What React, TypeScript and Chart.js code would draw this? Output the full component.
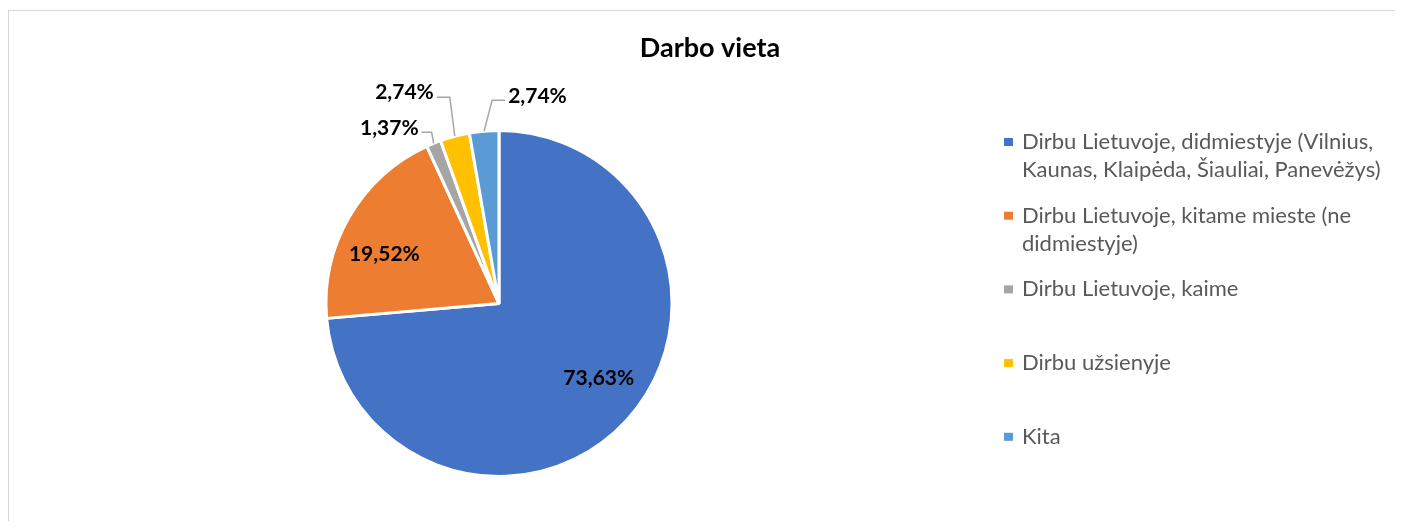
import React, { useEffect, useRef } from "react";
import { Chart, registerables } from "chart.js";

Chart.register(...registerables);

const chartTitle = "Darbo vieta";
const categories = [
  "Dirbu Lietuvoje, didmiestyje (Vilnius, Kaunas, Klaipėda, Šiauliai, Panevėžys)",
  "Dirbu Lietuvoje, kitame mieste (ne didmiestyje)",
  "Dirbu Lietuvoje, kaime",
  "Dirbu užsienyje",
  "Kita",
];
const values = [73.63, 19.52, 1.37, 2.74, 2.74];
const colors = ["#4472C4", "#ED7D31", "#A5A5A5", "#FFC000", "#5B9BD5"];

// label placement: inside labels use a shift from the mid-angle point,
// outside labels use leader geometry relative to the slice's outer mid point
type LabelCfg =
  | { kind: "inside"; shift: [number, number] }
  | {
      kind: "outside";
      elbow: [number, number];
      end: [number, number];
      text: [number, number];
      align: CanvasTextAlign;
    };
const labelCfg: LabelCfg[] = [
  { kind: "inside", shift: [8, -9] },
  { kind: "inside", shift: [-7, 13] },
  { kind: "outside", elbow: [-2, -11], end: [-12, -11], text: [-15, -15], align: "right" },
  { kind: "outside", elbow: [-5, -39], end: [-18, -39], text: [-21, -44], align: "right" },
  { kind: "outside", elbow: [8, -31], end: [21, -31], text: [24, -35], align: "left" },
];

const FONT = "Lato, 'Open Sans', sans-serif";

const fmt = (v: number) => v.toFixed(2).replace(".", ",") + "%";

function wrap(ctx: CanvasRenderingContext2D, text: string, maxW: number): string[] {
  const words = text.split(" ");
  const lines: string[] = [];
  let cur = "";
  for (const w of words) {
    const t = cur ? cur + " " + w : w;
    if (ctx.measureText(t).width > maxW && cur) {
      lines.push(cur);
      cur = w;
    } else cur = t;
  }
  if (cur) lines.push(cur);
  return lines;
}

const decorPlugin = {
  id: "decor",
  afterDatasetsDraw(chart: any) {
    const ctx: CanvasRenderingContext2D = chart.ctx;
    const area = chart.chartArea;
    const meta = chart.getDatasetMeta(0);
    ctx.save();

    // title
    ctx.fillStyle = "#000000";
    ctx.font = `bold 27px ${FONT}`;
    ctx.textAlign = "center";
    ctx.textBaseline = "middle";
    ctx.fillText(chartTitle, chart.width / 2 + 4, 37);

    // data labels
    ctx.font = `bold 21px ${FONT}`;
    meta.data.forEach((arc: any, i: number) => {
      const p = arc.getProps(["x", "y", "startAngle", "endAngle", "outerRadius"], true);
      const mid = (p.startAngle + p.endAngle) / 2;
      const cfg = labelCfg[i];
      const txt = fmt(values[i]);
      ctx.fillStyle = "#000000";
      if (cfg.kind === "inside") {
        const r = p.outerRadius * 0.72;
        const x = p.x + Math.cos(mid) * r + cfg.shift[0];
        const y = p.y + Math.sin(mid) * r + cfg.shift[1];
        ctx.textAlign = "center";
        ctx.fillText(txt, x, y);
      } else {
        const ax = p.x + Math.cos(mid) * p.outerRadius;
        const ay = p.y + Math.sin(mid) * p.outerRadius;
        ctx.strokeStyle = "#A6A6A6";
        ctx.lineWidth = 1.5;
        ctx.beginPath();
        ctx.moveTo(ax, ay);
        ctx.lineTo(ax + cfg.elbow[0], ay + cfg.elbow[1]);
        ctx.lineTo(ax + cfg.end[0], ay + cfg.end[1]);
        ctx.stroke();
        ctx.textAlign = cfg.align;
        ctx.fillText(txt, ax + cfg.text[0], ay + cfg.text[1]);
      }
    });

    // legend
    ctx.font = `22px ${FONT}`;
    ctx.textAlign = "left";
    ctx.textBaseline = "middle";
    const sqX = area.right + 15;
    const txX = area.right + 33;
    const maxW = chart.width - txX + 2;
    const firstY = 131;
    const step = 73.7;
    const lineH = 28;
    categories.forEach((c, i) => {
      const y0 = firstY + i * step;
      ctx.fillStyle = colors[i];
      ctx.fillRect(sqX, y0 - 4, 9, 8);
      ctx.fillStyle = "#595959";
      wrap(ctx, c, maxW).forEach((ln, j) => {
        ctx.fillText(ln, txX, y0 + j * lineH);
      });
    });
    ctx.restore();
  },
};

export default function App() {
  const ref = useRef<HTMLCanvasElement | null>(null);
  useEffect(() => {
    if (!ref.current) return;
    const chart = new Chart(ref.current, {
      type: "pie",
      data: {
        labels: categories,
        datasets: [
          {
            data: values,
            backgroundColor: colors,
            borderColor: "#ffffff",
            borderWidth: 3,
          },
        ],
      },
      options: {
        responsive: false,
        animation: false,
        layout: { padding: { top: 118, bottom: 43, left: 0, right: 414 } },
        plugins: {
          legend: { display: false },
          title: { display: false },
          tooltip: { enabled: false },
        },
      },
      plugins: [decorPlugin],
    });
    return () => chart.destroy();
  }, []);
  return (
    <div style={{ paddingTop: 2 }}>
      <div
        style={{
          width: 1395,
          boxSizing: "border-box",
          borderTop: "1px solid #d9d9d9",
          borderLeft: "1px solid #d9d9d9",
        }}
      >
        <canvas ref={ref} width={1394} height={510} style={{ display: "block" }} />
      </div>
    </div>
  );
}
